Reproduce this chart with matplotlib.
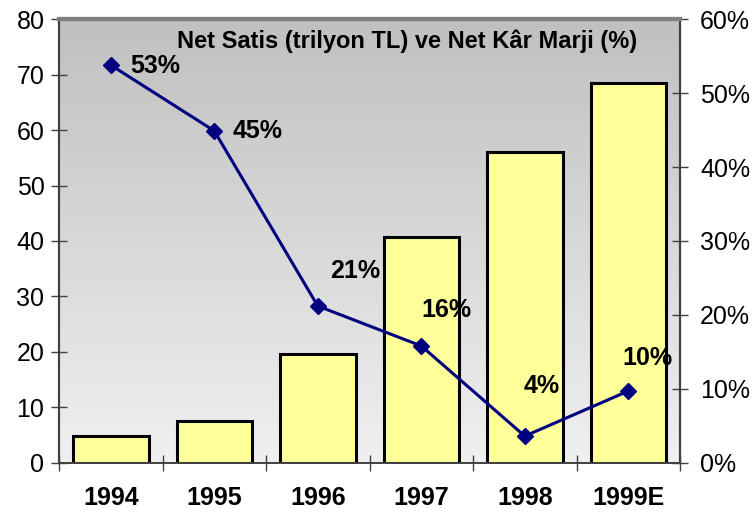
import numpy as np
import matplotlib.pyplot as plt
from matplotlib.ticker import FuncFormatter

plt.rcParams['font.family'] = ['Liberation Sans', 'DejaVu Sans']

# Net sales (trillion TL) and net profit margin (%)
YEARS = ["1994", "1995", "1996", "1997", "1998", "1999E"]
NET_SALES = [4.8, 7.6, 19.6, 40.8, 56.0, 68.5]
MARGIN = [53.8, 44.9, 21.2, 15.8, 3.6, 9.7]
MARGIN_LABELS = ["53%", "45%", "21%", "16%", "4%", "10%"]
TITLE = "Net Satis (trilyon TL) ve Net Kâr Marji (%)"

# label offsets (points) relative to each marker
LABEL_OFFSETS = [(14, -1), (13, 0), (9, 25), (0, 26), (-1, 36), (-4, 24)]


def main():
    fig = plt.figure(figsize=(7.52, 5.14), dpi=100)
    ax = fig.add_axes([0.0785, 0.0998, 0.9043 - 0.0785, 0.9625 - 0.0998])
    ax2 = ax.twinx()

    # gray gradient background
    grad = np.linspace(0, 1, 256).reshape(-1, 1)
    ax.imshow(grad, cmap=plt.matplotlib.colors.LinearSegmentedColormap.from_list(
        "bg", ["#c0c0c0", "#f0f0f0"]), aspect="auto",
        extent=[0, 1, 0, 1], transform=ax.transAxes, zorder=0,
        vmin=0, vmax=1, origin="upper")

    x = np.arange(len(YEARS))
    ax.bar(x, NET_SALES, width=0.73, color="#ffff99", edgecolor="black",
           linewidth=2.2, zorder=2)
    ax.set_xlim(-0.5, len(YEARS) - 0.5)
    ax.set_ylim(0, 80)
    ax.set_yticks(np.arange(0, 81, 10))
    ax.set_xticks(x)
    ax.set_xticklabels(YEARS, fontsize=18, fontweight="bold")
    ax.set_xticks(np.arange(-0.5, len(YEARS), 1), minor=True)
    ax.tick_params(axis="x", which="major", length=0, pad=17)
    ax.tick_params(axis="x", which="minor", direction="inout", length=11,
                   width=1, color="#404040")
    ax.tick_params(axis="y", labelsize=18, direction="inout", length=11,
                   width=1, color="#404040", pad=5)

    ax2.plot(x, MARGIN, color="#000080", linewidth=2.2, marker="D",
             markersize=8, zorder=3)
    for xi, yi, lab, off in zip(x, MARGIN, MARGIN_LABELS, LABEL_OFFSETS):
        ax2.annotate(lab, xy=(xi, yi), xytext=off, textcoords="offset points",
                     fontsize=18, fontweight="bold", ha="left", va="center")
    ax2.set_ylim(0, 60)
    ax2.set_yticks(np.arange(0, 61, 10))
    ax2.yaxis.set_major_formatter(FuncFormatter(lambda v, p: f"{v:.0f}%"))
    ax2.tick_params(axis="y", labelsize=18, direction="inout", length=11,
                    width=1, color="#404040", pad=9)

    for a in (ax, ax2):
        a.spines["top"].set_color("#808080")
        a.spines["top"].set_linewidth(3)
        a.spines["left"].set_color("#404040")
        a.spines["left"].set_linewidth(1.5)
        a.spines["right"].set_color("#404040")
        a.spines["right"].set_linewidth(1.5)
        a.spines["bottom"].set_color("#404040")
        a.spines["bottom"].set_linewidth(1.2)

    ax.text(0.56, 0.977, TITLE, transform=ax.transAxes, ha="center",
            va="top", fontsize=17, fontweight="bold", zorder=5)

    fig.savefig("out.png", dpi=100)


if __name__ == "__main__":
    main()
